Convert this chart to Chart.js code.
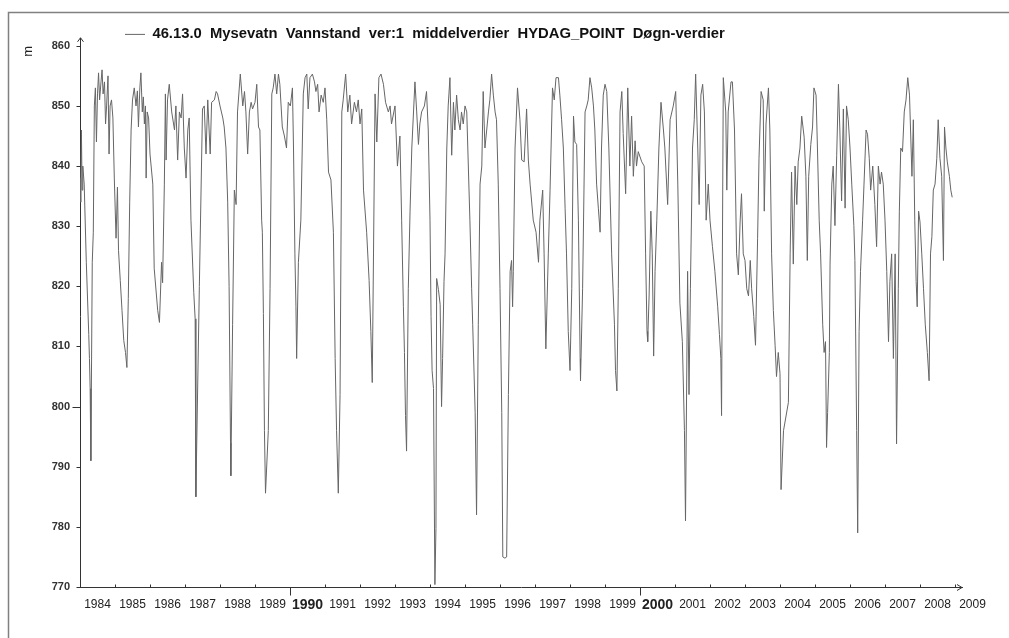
<!DOCTYPE html>
<html>
<head>
<meta charset="utf-8">
<script src="https://cdn.jsdelivr.net/npm/chart.js@4.4.6/dist/chart.umd.min.js"></script>
<style>
  html, body { margin: 0; padding: 0; background: #fff; }
</style>
</head>
<body>
<canvas id="chart" width="1009" height="638"></canvas>
<script>
/* series name, as in the legend */
const seriesLabel = "46.13.0  Mysevatn  Vannstand  ver:1  middelverdier  HYDAG_POINT  Døgn-verdier";

/* tick values */
const yearTicks = [1984, 1985, 1986, 1987, 1988, 1989, 1990, 1991, 1992, 1993, 1994, 1995, 1996,
  1997, 1998, 1999, 2000, 2001, 2002, 2003, 2004, 2005, 2006, 2007, 2008, 2009];
const levelTicks = [770, 780, 790, 800, 810, 820, 830, 840, 850, 860];

/* water level (m) - decimal year / level */
const dates = [
  1984.00,1984.02,1984.04,1984.06,1984.08,1984.12,1984.18,1984.25,1984.27,1984.29,1984.31,1984.35,1984.38,1984.41,1984.44,1984.47,1984.50,1984.53,1984.56,1984.60,1984.63,1984.66,1984.70,1984.73,1984.76,1984.80,1984.83,1984.86,1984.90,1984.94,1984.98,
  1985.03,1985.07,1985.10,1985.15,1985.20,1985.25,1985.30,1985.34,1985.38,1985.42,1985.46,1985.50,1985.55,1985.60,1985.64,1985.67,1985.71,1985.74,1985.78,1985.81,1985.84,1985.87,1985.89,1985.92,1985.96,
  1986.00,1986.08,1986.12,1986.22,1986.27,1986.33,1986.36,1986.41,1986.44,1986.46,1986.50,1986.55,1986.62,1986.70,1986.74,1986.79,1986.84,1986.89,1986.93,1986.98,
  1987.03,1987.08,1987.12,1987.17,1987.25,1987.29,1987.31,1987.41,1987.48,1987.50,1987.55,1987.60,1987.65,1987.72,1987.76,1987.84,1987.89,1987.93,
  1988.00,1988.08,1988.12,1988.17,1988.22,1988.26,1988.30,1988.31,1988.36,1988.41,1988.46,1988.50,1988.58,1988.65,1988.70,1988.74,1988.79,1988.84,1988.89,1988.93,
  1989.00,1989.05,1989.10,1989.14,1989.19,1989.21,1989.24,1989.27,1989.30,1989.38,1989.43,1989.48,1989.52,1989.57,1989.62,1989.67,1989.71,1989.78,1989.84,1989.90,1989.95,
  1990.01,1990.07,1990.10,1990.14,1990.17,1990.19,1990.24,1990.31,1990.38,1990.43,1990.48,1990.52,1990.57,1990.64,1990.70,1990.74,1990.79,1990.83,1990.89,1990.95,
  1991.00,1991.05,1991.10,1991.17,1991.24,1991.29,1991.33,1991.38,1991.43,1991.48,1991.52,1991.59,1991.65,1991.71,1991.76,1991.84,1991.90,1991.95,
  1992.00,1992.05,1992.10,1992.19,1992.26,1992.31,1992.35,1992.43,1992.48,1992.54,1992.60,1992.67,1992.73,1992.81,1992.86,1992.90,
  1993.00,1993.07,1993.14,1993.19,1993.24,1993.27,1993.30,1993.33,1993.38,1993.43,1993.48,1993.57,1993.62,1993.67,1993.71,1993.76,1993.84,1993.90,1993.95,
  1994.00,1994.03,1994.06,1994.10,1994.14,1994.17,1994.19,1994.24,1994.29,1994.33,1994.36,1994.40,1994.43,1994.48,1994.52,1994.57,1994.62,1994.67,1994.71,1994.76,1994.81,1994.86,1994.90,1994.95,
  1995.00,1995.05,1995.14,1995.19,1995.22,1995.29,1995.33,1995.38,1995.43,1995.48,1995.52,1995.57,1995.62,1995.67,1995.71,1995.76,1995.81,1995.86,1995.90,1995.95,
  1996.00,1996.05,1996.08,1996.14,1996.19,1996.24,1996.29,1996.33,1996.36,1996.38,1996.43,1996.50,1996.57,1996.62,1996.69,1996.76,1996.81,1996.86,1996.95,
  1997.03,1997.10,1997.14,1997.22,1997.26,1997.31,1997.38,1997.43,1997.50,1997.55,1997.60,1997.67,1997.71,1997.76,1997.81,1997.86,1997.90,1997.95,
  1998.00,1998.05,1998.10,1998.14,1998.19,1998.24,1998.29,1998.30,1998.36,1998.43,1998.48,1998.52,1998.57,1998.62,1998.67,1998.71,1998.76,1998.81,1998.86,1998.90,1998.95,
  1999.00,1999.05,1999.11,1999.19,1999.27,1999.30,1999.34,1999.38,1999.43,1999.48,1999.52,1999.59,1999.65,1999.71,1999.76,1999.81,1999.86,1999.90,1999.95,
  2000.05,2000.12,2000.16,2000.20,2000.22,2000.26,2000.31,2000.35,2000.39,2000.43,2000.48,2000.54,2000.60,2000.67,2000.71,2000.79,2000.86,2000.95,
  2001.02,2001.08,2001.14,2001.21,2001.27,2001.30,2001.36,2001.40,2001.44,2001.50,2001.55,2001.59,2001.65,2001.69,2001.74,2001.79,2001.84,2001.89,2001.95,
  2002.00,2002.07,2002.14,2002.22,2002.27,2002.31,2002.33,2002.38,2002.45,2002.48,2002.52,2002.60,2002.64,2002.70,2002.76,2002.81,2002.86,2002.90,2002.95,
  2003.00,2003.05,2003.10,2003.15,2003.19,2003.25,2003.30,2003.36,2003.40,2003.46,2003.52,2003.55,2003.60,2003.67,2003.71,2003.76,2003.81,2003.86,2003.90,2003.95,
  2004.00,2004.03,2004.10,2004.24,2004.29,2004.33,2004.38,2004.43,2004.48,2004.52,2004.57,2004.62,2004.69,2004.74,2004.78,2004.82,2004.88,2004.93,2004.97,
  2005.03,2005.07,2005.12,2005.16,2005.22,2005.26,2005.30,2005.33,2005.36,2005.41,2005.43,2005.48,2005.52,2005.57,2005.62,2005.67,2005.71,2005.76,2005.81,2005.86,2005.90,2005.95,
  2006.00,2006.05,2006.11,2006.14,2006.19,2006.22,2006.26,2006.30,2006.36,2006.40,2006.46,2006.50,2006.55,2006.59,2006.65,2006.71,2006.76,2006.81,2006.86,2006.90,2006.95,
  2007.00,2007.05,2007.10,2007.14,2007.19,2007.24,2007.29,2007.33,2007.38,2007.41,2007.45,2007.50,2007.55,2007.60,2007.65,2007.70,2007.73,2007.77,2007.81,2007.85,2007.89,2007.92,2007.96,
  2008.00,2008.05,2008.10,2008.15,2008.21,2008.26,2008.30,2008.34,2008.38,2008.43,2008.48,2008.52,2008.57,2008.62,2008.67,2008.70,2008.74,2008.78,2008.84,2008.88,2008.92
];
const levels = [
  838,834,846,836,840,837,824,812,808,803,791,824,829,850,853,844,852,855.5,851,854,856,852,854,847,850,855,842,850,851,848,838,
  828,836.5,826,821,816,811,809,806.5,818,834,846,851,853,850,852.5,846.5,853,855.5,849,851.5,847,850,838,849,848,
  842,837,823,816,814,824,820.6,837,852,841,851,853.6,849,846,850,841,849,848,852,843,
  838,846,848,831,819,814.6,785,820,843,849.5,850,842,851,842,850.6,851,852.4,852,
  850,848,846.5,843,834,820,794,788.5,813.7,836,833.6,849,855.3,850,852.4,849,842,849,850.6,849.5,
  850.6,853.6,846.5,846,831,829,815.5,796,785.6,796,819.6,852,853,855.3,852,855.3,853.6,846.5,845,843,850.6,
  850,853,843,825.4,816.6,808,824,831,852,854.7,855.3,849.5,854.7,855.3,854,852.4,853.6,849,851.8,850.6,
  853,847.7,839,837.7,829,808,796,785.6,802,849,851,855.3,849,851.8,847,850.6,849,851,
  847,849.5,836,829,821,812.5,804,852,844,854.7,855.3,853.6,850.6,849,850,847,
  850,840,845,831,816.6,809,798.5,792.6,819.6,832.5,843,854,849,843.6,847,849,850,852.4,846,
  831,815,806,803,770.4,779.7,821.3,819.5,817,800,808,820.8,825.4,843,850,854.7,841.8,850.6,846,851.8,847.7,846,849,847,
  850,849,831,819.6,813.7,799,782,813.7,837,840,852.4,843,846,849,851,855.3,851.8,849,847.7,837,
  819.6,799,775,774.8,775,802,822.5,824.3,816.6,822.5,843,853,847.7,841,840.7,849.5,841,837,831,
  829,824,831,836,825.4,809.6,825.4,836,853,851,854.7,854.7,851.8,847.7,843,833,825.4,812.5,
  806,819.6,848.3,844,843.6,831,808,804.3,819.6,849,850,851,854.7,853,850,846,837,833,829,843,851.8,
  853.6,852.4,843,825.4,813.7,806,802.6,819.6,849,852.4,845.4,835.4,853,840,848.3,838.3,844.2,840,842.4,
  840.7,840,825.4,812.5,810.8,818.4,832.5,825.4,808.4,822.5,831,843,850.6,846,843,833.6,847.7,850,
  852.4,837,817.2,810.8,796,781,822.5,802,819.6,843,847.7,855.3,843,833.6,851.8,853.6,849,831,837,
  831,826.6,822.5,816.6,812,808,798.5,854.7,849,836,849,854,854,846,825.4,821.9,830.7,835.4,825.4,
  824.3,819.6,818.4,824.3,819.6,815,810.2,828,841.3,852.4,851,832.5,847,853,846,825.4,816,810.2,805,809,
  805.5,786.2,796,800.7,825.4,839,823.7,840,833.6,840.7,843,848.3,844.8,838.3,824.3,838.3,843.6,846.5,853,
  851.8,843,831,825.4,813.7,809,810.8,793.2,799,809,823.7,837,840,830.1,841.8,853.6,846,834.2,849.5,833,850,847.7,
  843,837,830.1,824.3,796,779,812.5,822.5,831,837,846,845.3,841.3,836,840,833.6,826.6,840,837,839,837,
  831,822.5,810.8,820.8,825.4,808,825.4,793.8,819.6,832.5,843,842.4,849,851,854.7,851.8,846,838.3,847.7,831,820.8,816.6,832.5,
  830.7,825.4,819.6,813.7,809,804.3,825.4,828.3,836,837,841.3,847.7,841.3,838.3,824.3,846.5,843,840.7,838.3,836,834.8
];

const FONT = "'Liberation Sans', Arial, sans-serif";
const ctx = document.getElementById('chart');

/* frame, arrows and the little tick marks */
const decorations = {
  id: 'decorations',
  beforeDraw(chart) {
    const c = chart.ctx;
    c.save();
    c.fillStyle = '#fff';
    c.fillRect(0, 0, chart.width, chart.height);
    c.strokeStyle = '#808080';
    c.lineWidth = 1.5;
    c.beginPath();
    c.moveTo(8.5, chart.height);
    c.lineTo(8.5, 12.5);
    c.lineTo(chart.width, 12.5);
    c.stroke();
    c.restore();
  },
  afterLayout(chart) {
    // legend sits to the right of the y axis, just above the plot
    chart.legend.left = 115;
    chart.legend.top = 17;
  },
  afterDraw(chart) {
    const { ctx: c, chartArea: a, scales: { x, y } } = chart;
    const l = a.left + 0.5, b = a.bottom + 0.5;
    c.save();
    c.strokeStyle = '#333';
    c.lineWidth = 1;
    c.beginPath();
    c.moveTo(l, a.top); c.lineTo(l, a.top - 8);
    c.moveTo(l - 3, a.top - 4); c.lineTo(l, a.top - 8); c.lineTo(l + 3, a.top - 4);
    c.moveTo(a.right - 5, b - 3); c.lineTo(a.right, b); c.lineTo(a.right - 5, b + 3);
    yearTicks.forEach(v => {
      const px = Math.round(x.getPixelForValue(v)) + 0.5;
      if (v % 10 === 0) { c.moveTo(px, b); c.lineTo(px, b + 8); }
      else { c.moveTo(px, b - 3); c.lineTo(px, b); }
    });
    levelTicks.forEach(v => {
      const py = Math.round(y.getPixelForValue(v)) + 0.5;
      c.moveTo(l - (v === 800 ? 8 : 4), py); c.lineTo(l, py);
    });
    c.stroke();
    c.restore();
  }
};

const config = {
  type: 'line',
  data: {
    datasets: [{
      label: seriesLabel,
      data: dates.map((d, i) => ({ x: d, y: levels[i] })),
      borderColor: '#666',
      borderWidth: 1,
      pointRadius: 0,
      tension: 0,
      fill: false
    }]
  },
  options: {
    responsive: false,
    animation: false,
    events: [],
    layout: { padding: { left: 14, top: 11, right: 47, bottom: 0 } },
    plugins: {
      legend: {
        display: true,
        position: 'top',
        align: 'start',
        labels: {
          usePointStyle: true,
          pointStyle: 'line',
          pointStyleWidth: 20,
          color: '#111',
          font: { family: FONT, size: 14.8, weight: 'bold' }
        }
      },
      tooltip: { enabled: false }
    },
    scales: {
      x: {
        type: 'linear',
        min: 1984,
        max: 2009.2,
        afterBuildTicks: s => { s.ticks = yearTicks.map(v => ({ value: v })); },
        afterFit: s => { s.height = 51; s.paddingLeft = 0; s.paddingRight = 0; },
        grid: { drawOnChartArea: false, drawTicks: false },
        border: { display: true, color: '#333', width: 1 },
        ticks: {
          autoSkip: false,
          maxRotation: 0,
          labelOffset: 17.5,
          padding: 10,
          color: '#222',
          font: c => (c.tick && c.tick.value % 10 === 0)
            ? { family: FONT, size: 14, weight: 'bold' }
            : { family: FONT, size: 12 },
          callback: v => String(v)
        }
      },
      y: {
        min: 770,
        max: 860,
        afterBuildTicks: s => { s.ticks = levelTicks.map(v => ({ value: v })); },
        afterFit: s => { s.width = 66; s.paddingTop = 0; s.paddingBottom = 0; },
        grid: { drawOnChartArea: false, drawTicks: false },
        border: { display: true, color: '#333', width: 1 },
        title: {
          display: true,
          text: 'm',
          align: 'end',
          color: '#222',
          padding: { top: 7, bottom: 4 },
          font: { family: FONT, size: 13 }
        },
        ticks: {
          padding: 10,
          color: '#333',
          font: { family: FONT, size: 11, weight: 'bold' },
          callback: v => String(v)
        }
      }
    }
  },
  plugins: [decorations]
};

new Chart(ctx, config);
</script>
</body>
</html>
